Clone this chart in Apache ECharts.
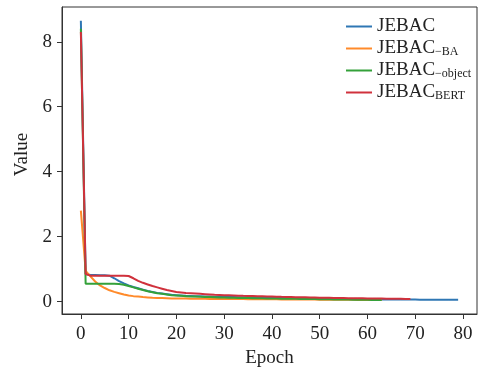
<!DOCTYPE html>
<html>
<head>
<meta charset="utf-8">
<script src="https://cdn.jsdelivr.net/npm/echarts@6/dist/echarts.min.js"></script>
<style>html,body{margin:0;padding:0;background:#fff}#c{width:480px;height:367px}</style>
</head>
<body>
<div id="c"></div>
<script>
const xTicks = [0, 10, 20, 30, 40, 50, 60, 70, 80];
const yTicks = [0, 2, 4, 6, 8];
const seriesNames = ['JEBAC', 'JEBAC_-BA', 'JEBAC_-object', 'JEBAC_BERT'];

const jebac = [
8.65, 0.85, 0.82, 0.82, 0.81, 0.81, 0.80, 0.72, 0.63, 0.56,
0.50, 0.45, 0.41, 0.37, 0.33, 0.30, 0.27, 0.25, 0.23, 0.21,
0.20, 0.19, 0.18, 0.175, 0.17, 0.165, 0.16, 0.155, 0.15, 0.148,
0.145, 0.142, 0.14, 0.137, 0.135, 0.132, 0.13, 0.127, 0.125, 0.122,
0.12, 0.117, 0.115, 0.112, 0.11, 0.107, 0.105, 0.102, 0.10, 0.098,
0.095, 0.093, 0.09, 0.088, 0.086, 0.084, 0.082, 0.08, 0.078, 0.076,
0.075, 0.073, 0.072, 0.07, 0.069, 0.068, 0.067, 0.066, 0.065, 0.064,
0.063, 0.062, 0.061, 0.06, 0.059, 0.058, 0.057, 0.056, 0.055, 0.055];

const jebacBA = [
2.80, 0.95, 0.78, 0.62, 0.50, 0.42, 0.35, 0.30, 0.26, 0.22,
0.19, 0.17, 0.155, 0.14, 0.13, 0.12, 0.115, 0.11, 0.105, 0.10,
0.098, 0.096, 0.094, 0.092, 0.09, 0.088, 0.086, 0.085, 0.084, 0.083,
0.082, 0.081, 0.08, 0.079, 0.078, 0.077, 0.076, 0.075, 0.074, 0.073,
0.072, 0.071, 0.07, 0.069, 0.068, 0.067, 0.066, 0.065, 0.064, 0.063,
0.062, 0.061, 0.06, 0.059, 0.058, 0.057, 0.056, 0.055, 0.054, 0.053,
0.052, 0.051, 0.05, 0.05];

const jebacObject = [
8.40, 0.55, 0.55, 0.55, 0.55, 0.55, 0.55, 0.55, 0.54, 0.52,
0.48, 0.44, 0.40, 0.36, 0.32, 0.29, 0.26, 0.24, 0.22, 0.20,
0.19, 0.18, 0.17, 0.16, 0.155, 0.15, 0.145, 0.14, 0.135, 0.13,
0.125, 0.12, 0.118, 0.115, 0.112, 0.11, 0.107, 0.105, 0.102, 0.10,
0.097, 0.095, 0.092, 0.09, 0.088, 0.086, 0.084, 0.082, 0.08, 0.078,
0.076, 0.074, 0.072, 0.07, 0.068, 0.066, 0.064, 0.062, 0.06, 0.058,
0.056, 0.054, 0.052, 0.05];

const jebacBERT = [
8.30, 0.85, 0.80, 0.80, 0.80, 0.80, 0.80, 0.80, 0.80, 0.80,
0.79, 0.72, 0.64, 0.58, 0.53, 0.48, 0.44, 0.40, 0.36, 0.33,
0.30, 0.285, 0.27, 0.26, 0.25, 0.24, 0.23, 0.22, 0.21, 0.205,
0.20, 0.195, 0.19, 0.185, 0.18, 0.176, 0.172, 0.168, 0.164, 0.16,
0.156, 0.152, 0.148, 0.145, 0.142, 0.139, 0.136, 0.133, 0.13, 0.127,
0.124, 0.121, 0.118, 0.115, 0.112, 0.11, 0.108, 0.106, 0.104, 0.102,
0.10, 0.098, 0.096, 0.094, 0.092, 0.09, 0.088, 0.086, 0.084, 0.082];

const colors = ['#2f77b4', '#ff8a2a', '#34a13a', '#d0313c'];
const allData = [jebac, jebacBA, jebacObject, jebacBERT];
const font = '"Liberation Serif", "DejaVu Serif", serif';

function pairs(arr) { return arr.map((v, i) => [i, v]); }

const legendRich = {
  m: { fontSize: 19, fontFamily: font, color: '#222', lineHeight: 19 },
  s: { fontSize: 12, fontFamily: font, color: '#222', lineHeight: 19, verticalAlign: 'bottom', padding: [9, 0, 0, 0] }
};

const chart = echarts.init(document.getElementById('c'), null, { renderer: 'canvas' });
chart.setOption({
  animation: false,
  backgroundColor: '#fff',
  color: colors,
  grid: { left: 62, right: 3, top: 7, bottom: 53, show: true, borderColor: '#333', borderWidth: 1, containLabel: false, outerBoundsMode: 'none' },
  legend: {
    orient: 'vertical', left: 341, top: 12, itemWidth: 26, itemHeight: 2, itemGap: 1,
    icon: 'rect',
    data: seriesNames,
    formatter: function (n) {
      const parts = n.split('_');
      if (parts.length === 1) return '{m|' + n + '}';
      let sub = parts[1].replace('-', '\u2212');
      return '{m|' + parts[0] + '}{s|' + sub + '}';
    },
    textStyle: { rich: legendRich, padding: [0, 0, 0, 0] }
  },
  xAxis: {
    type: 'value', min: -3.95, max: 82.95,
    name: 'Epoch', nameLocation: 'middle', nameGap: 34,
    nameTextStyle: { fontFamily: font, fontSize: 19, color: '#222' },
    axisLine: { show: true, onZero: false, lineStyle: { color: '#333', width: 1 } },
    axisTick: { show: true, inside: false, length: 5, customValues: xTicks, lineStyle: { color: '#333' } },
    axisLabel: { customValues: xTicks, fontFamily: font, fontSize: 19, color: '#222', margin: 11 },
    splitLine: { show: false }
  },
  yAxis: {
    type: 'value', min: -0.38, max: 9.07,
    name: 'Value', nameLocation: 'middle', nameGap: 23,
    nameTextStyle: { fontFamily: font, fontSize: 19, color: '#222', padding: [0, 0, 0, 12] },
    axisLine: { show: true, onZero: false, lineStyle: { color: '#333', width: 1 } },
    axisTick: { show: true, inside: false, length: 5, customValues: yTicks, lineStyle: { color: '#333' } },
    axisLabel: { customValues: yTicks, fontFamily: font, fontSize: 19, color: '#222', margin: 10 },
    splitLine: { show: false }
  },
  series: seriesNames.map((n, i) => ({
    name: n, type: 'line', data: pairs(allData[i]), symbol: 'none', showSymbol: false,
    lineStyle: { width: 2, color: colors[i] }, itemStyle: { color: colors[i] }, z: 2 + i
  }))
});
</script>
</body>
</html>
